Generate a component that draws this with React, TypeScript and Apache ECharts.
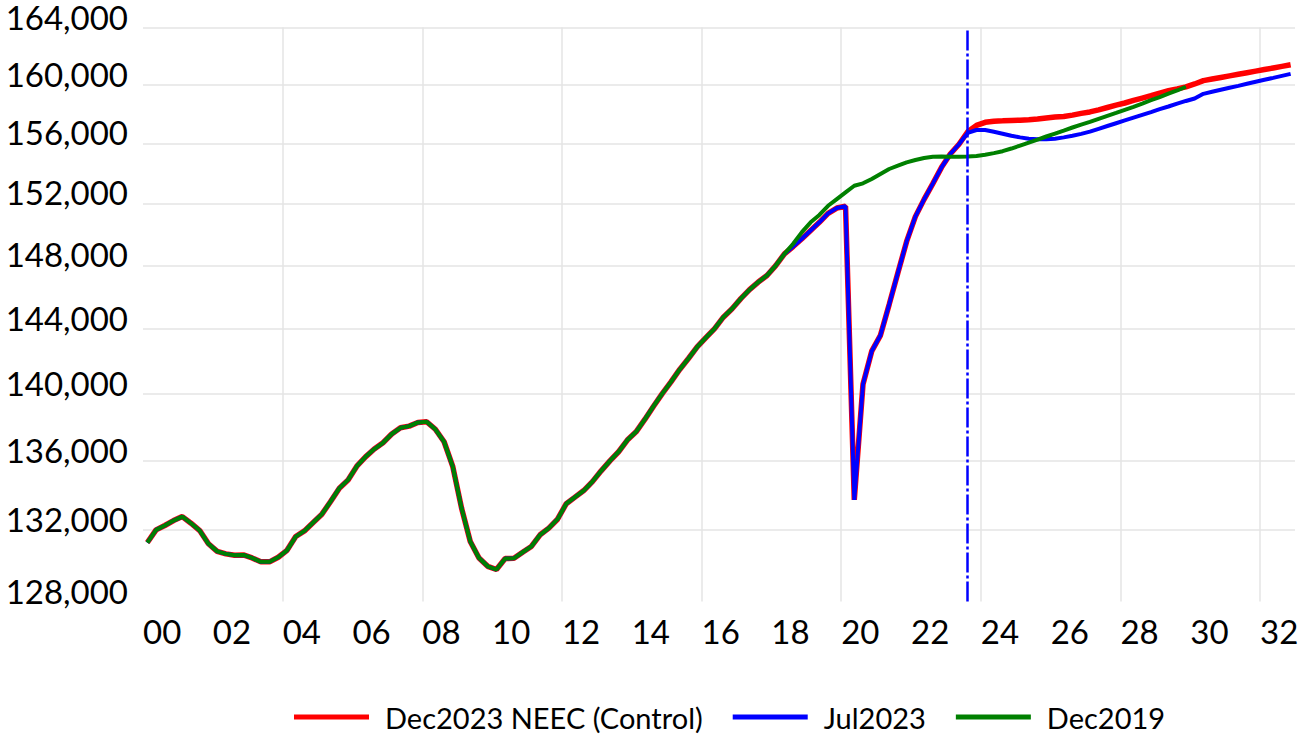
import React, { useEffect, useRef } from "react";
import * as echarts from "echarts";

// x axis: quarters 2000Q1 .. 2032Q4 (index 0..131)
const yearLabels = ["00", "02", "04", "06", "08", "10", "12", "14", "16", "18", "20", "22", "24", "26", "28", "30", "32"];
const labelQuarterIdx = yearLabels.map((_, k) => k * 8);
const verticalGridIdx = [16, 32, 48, 64, 80, 96, 112, 128];
const yTickValues = [128000, 132000, 136000, 140000, 144000, 148000, 152000, 156000, 160000, 164000];
const forecastLineIdx = 94;

// shared history, 2000Q1 .. 2018Q2 (index 0..73)
const history = [
  131300, 132020, 132270, 132550, 132780, 132400, 131980, 131230, 130800, 130660,
  130580, 130600, 130430, 130210, 130210, 130470, 130860, 131640, 131960, 132440,
  132920, 133650, 134420, 134900, 135700, 136250, 136710, 137080, 137600, 137970,
  138070, 138290, 138330, 137880, 137140, 135670, 133270, 131360, 130430, 129960,
  129780, 130400, 130410, 130750, 131080, 131740, 132120, 132630, 133520, 133900,
  134280, 134800, 135430, 136010, 136550, 137240, 137730, 138470, 139260, 140020,
  140730, 141490, 142160, 142870, 143450, 144010, 144720, 145250, 145880, 146450,
  146930, 147350, 147980, 148730,
];

// recent history (2018Q3 .. 2023Q2, index 74..93), Jul2023 & Dec2023 vintages
const recentHistory = [
  149200, 149700, 150240, 150770, 151350, 151700, 151820, 133740, 140590, 142610,
  143590, 145520, 147520, 149530, 151140, 152270, 153310, 154390, 155280, 155940,
];

// Dec2023 NEEC (Control), index 94..131
const dec2023Forecast = [
  156780, 157210, 157420, 157500, 157520, 157550, 157570, 157600, 157640, 157710,
  157780, 157820, 157910, 158030, 158130, 158270, 158430, 158590, 158740, 158920,
  159080, 159240, 159420, 159580, 159710, 159850, 160050, 160280, 160390, 160500,
  160610, 160720, 160830, 160940, 161050, 161160, 161270, 161380,
];

// Jul2023, index 94..131
const jul2023Forecast = [
  156710, 156900, 156900, 156780, 156650, 156510, 156400, 156310, 156270, 156270,
  156310, 156400, 156510, 156640, 156790, 156980, 157170, 157360, 157550, 157740,
  157930, 158120, 158320, 158500, 158700, 158880, 159050, 159370, 159510, 159650,
  159790, 159920, 160060, 160200, 160340, 160470, 160610, 160750,
];

// Dec2019, index 74..119
const dec2019Recent = [
  149380, 150130, 150770, 151250, 151850, 152290,
  152730, 153170, 153330, 153620, 153950, 154280, 154500, 154720, 154880, 155010,
  155100, 155120, 155100, 155100, 155120, 155150, 155230, 155340, 155470, 155650,
  155850, 156050, 156250, 156460, 156660, 156860, 157070, 157270, 157450, 157660,
  157860, 158060, 158270, 158480, 158700, 158930, 159150, 159380, 159600, 159860,
];

const seriesNames = ["Dec2023 NEEC (Control)", "Jul2023", "Dec2019"];
const seriesColors = ["#ff0000", "#0000ff", "#008000"];

const toPoints = (vals: number[]) => vals.map((v, i) => [i + 0.5, v]);

const FONT = "Lato";

export default function App() {
  const ref = useRef<HTMLDivElement>(null);
  useEffect(() => {
    if (!ref.current) return;
    const chart = echarts.init(ref.current, undefined, { renderer: "svg" });
    const red = history.concat(recentHistory, dec2023Forecast);
    const blue = history.concat(recentHistory, jul2023Forecast);
    const green = history.concat(dec2019Recent);
    const gridLine = { show: true, lineStyle: { color: "#e4e4e4", width: 1.5 } };
    chart.setOption({
      animation: false,
      grid: { left: 143, right: 13, top: 26, bottom: 134.5, containLabel: false },
      xAxis: {
        type: "value",
        min: 0,
        max: 132,
        axisLine: { show: false },
        axisTick: { show: false, customValues: verticalGridIdx },
        splitLine: gridLine,
        axisLabel: {
          customValues: labelQuarterIdx,
          formatter: (v: number) => yearLabels[Math.round(v / 8)] ?? "",
          align: "left",
          margin: 13,
          fontFamily: FONT,
          fontSize: 33,
          color: "#000",
        },
      },
      yAxis: {
        type: "log",
        logBase: 10,
        min: 128000,
        max: 164000,
        axisLine: { show: false },
        axisTick: { show: false, customValues: yTickValues.slice(1) },
        splitLine: gridLine,
        axisLabel: {
          customValues: yTickValues,
          formatter: (v: number) => Math.round(v).toLocaleString("en-US"),
          margin: 15,
          fontFamily: FONT,
          fontSize: 33,
          lineHeight: 22,
          verticalAlign: "bottom",
          color: "#000",
        },
      },
      legend: {
        left: 294,
        top: 701,
        padding: 0,
        icon: "rect",
        itemWidth: 75,
        itemHeight: 5,
        itemGap: 30,
        data: seriesNames,
        textStyle: {
          fontFamily: FONT,
          fontSize: 29,
          lineHeight: 32,
          color: "#000",
          padding: [0, 0, 0, 11],
        },
      },
      series: [
        {
          name: seriesNames[0],
          type: "line",
          data: toPoints(red),
          showSymbol: false,
          symbol: "none",
          color: seriesColors[0],
          lineStyle: { color: seriesColors[0], width: 5.5 },
          z: 2,
        },
        {
          name: seriesNames[1],
          type: "line",
          data: toPoints(blue),
          showSymbol: false,
          symbol: "none",
          color: seriesColors[1],
          lineStyle: { color: seriesColors[1], width: 4 },
          z: 3,
          markLine: {
            silent: true,
            symbol: ["none", "none"],
            label: { show: false },
            lineStyle: { color: "#0000ff", width: 2.5, type: [20, 3, 3, 3] },
            data: [{ xAxis: forecastLineIdx + 0.5 }],
          },
        },
        {
          name: seriesNames[2],
          type: "line",
          data: toPoints(green),
          showSymbol: false,
          symbol: "none",
          color: seriesColors[2],
          lineStyle: { color: seriesColors[2], width: 4 },
          z: 4,
        },
      ],
    });
    return () => chart.dispose();
  }, []);
  return (
    <div
      ref={ref}
      style={{ position: "fixed", left: 0, top: 0, width: 1308, height: 736, background: "#fff" }}
    />
  );
}
